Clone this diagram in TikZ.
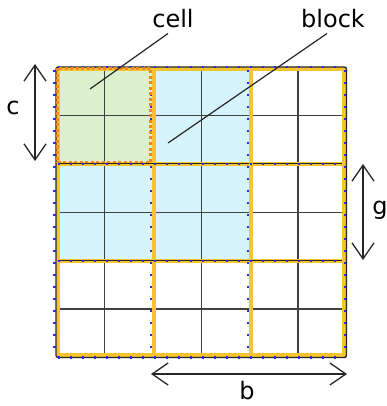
\documentclass[tikz,border=0pt]{standalone}
\usepackage{fontspec}
\setmainfont{DejaVu Sans}
\usetikzlibrary{arrows.meta}

\definecolor{cellgreen}{RGB}{221,240,206}
\definecolor{blockblue}{RGB}{214,244,251}
\definecolor{bordergold}{RGB}{245,196,48}
\definecolor{dotblue}{RGB}{40,40,250}
\definecolor{dashorange}{RGB}{240,135,35}

\tikzset{
  lbl/.style={font=\fontsize{24}{28}\selectfont, inner sep=0pt},
  lead/.style={draw=black!85, line width=1.2pt},
  dim/.style={draw=black!85, line width=1.3pt,
    {Straight Barb[length=16pt,width=22pt]}-{Straight Barb[length=16pt,width=22pt]}},
  cellline/.style={draw=black!75, line width=1.1pt},
  blockedge/.style={draw=bordergold, line width=4pt},
  blockdots/.style={draw=dotblue, line width=2.2pt, dash pattern=on 2.2pt off 9.8pt},
}

\begin{document}
\begin{tikzpicture}[x=1pt, y=-1pt]
  \useasboundingbox (0,0) rectangle (387,406);

  % Block fills
  \foreach \i/\j/\col in {0/0/cellgreen, 1/0/blockblue, 0/1/blockblue, 1/1/blockblue} {
    \fill[\col] ({56+96.8*\i},{67+96.8*\j}) rectangle ++(96.8,96.8);
  }

  % Cell gridlines
  \foreach \k in {1,...,5} {
    \draw[cellline] ({56+48.4*\k},67) -- ++(0,290.4);
    \draw[cellline] (56,{67+48.4*\k}) -- ++(290.4,0);
  }

  % Block borders
  \foreach \k in {1,2} {
    \draw[blockedge] ({56+96.8*\k+1},67) -- ++(0,290.4);
    \draw[blockedge] (56,{67+96.8*\k+0.5}) -- ++(290.4,0);
    \draw[black!85, line width=1.1pt] (56,{67+96.8*\k}) -- ++(290.4,0);
  }
  \draw[blockedge] (58,69) rectangle (344.4,355.4);
  \draw[black!85, line width=1.3pt, rounded corners=2pt] (56,67) rectangle (346.4,357.4);

  % Block dots
  \foreach \k in {0,...,3} {
    \draw[blockdots] ({56+96.8*\k-1.5},70) -- ++(0,288);
    \draw[blockdots] (58,{67+96.8*\k}) -- ++(288,0);
  }
  \draw[dashorange, line width=2.4pt, dash pattern=on 3pt off 2.5pt] (57.5,68.5) rectangle (150.5,162);

  % Labels and leaders
  \node[lbl] (cell) at (173,19) {cell};
  \node[lbl] (block) at (333,19) {block};
  \coordinate (cellend) at (90,89);
  \coordinate (blockend) at (168,143);
  \draw[lead] ([xshift=-5pt,yshift=-5pt]cell.south) -- (cellend);
  \draw[lead] ([xshift=-6pt,yshift=-5pt]block.south) -- (blockend);

  % Dimension arrows
  \coordinate (ctop) at (35,64);
  \coordinate (cbot) at (35,161);
  \draw[dim] (ctop) -- (cbot);
  \node[lbl] (clbl) at (13,108) {c};

  \coordinate (gtop) at (363,164);
  \coordinate (gbot) at (363,260);
  \draw[dim] (gtop) -- (gbot);
  \node[lbl] (glbl) at (380,210) {g};

  \coordinate (bleft) at (151,374);
  \coordinate (bright) at (347,374);
  \draw[dim] (bleft) -- (bright);
  \node[lbl] (blbl) at (247,391) {b};
\end{tikzpicture}
\end{document}
